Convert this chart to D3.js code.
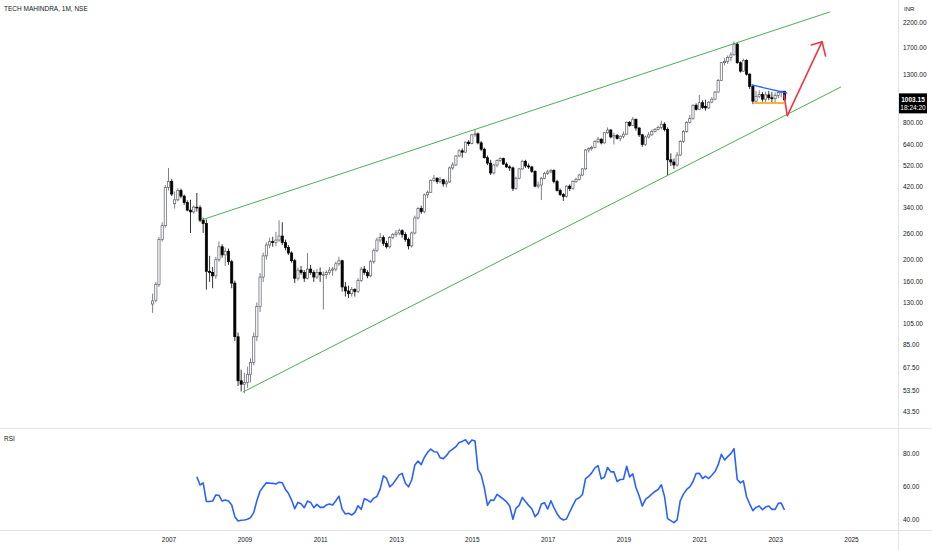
<!DOCTYPE html>
<html>
<head>
<meta charset="utf-8">
<script src="https://cdn.jsdelivr.net/npm/d3@7"></script>
<style>
    html, body { margin: 0; padding: 0; background: #ffffff; }
    svg { display: block; font-family: "Liberation Sans", Arial, sans-serif; }
</style>
</head>
<body>
<div id="chart"></div>
<script>
(function() {
    "use strict";

    // Monthly candles, Aug 2006 .. Apr 2023 (one row per year).
    var firstMonth = "2006-08-01";
    var opens = [
        128, 133, 156, 245, 282,
        415, 440, 352, 366, 402, 380, 356, 330, 324, 340, 338, 298,
        288, 178, 176, 170, 200, 228, 210, 218, 196, 158, 92, 59,
        57, 58, 63, 71, 92, 125, 168, 208, 232, 240, 238, 244,
        254, 238, 226, 214, 198, 166, 180, 176, 166, 182, 176, 168,
        176, 172, 172, 176, 180, 182, 192, 198, 152, 146, 142, 148,
        145, 162, 182, 176, 170, 196, 220, 244, 250, 236, 228, 250,
        258, 262, 268, 258, 245, 230, 262, 305, 335, 325, 385, 395,
        445, 455, 440, 448, 430, 438, 505, 520, 570, 600, 592, 655,
        645, 705, 712, 650, 610, 560, 530, 480, 520, 545, 555, 525,
        510, 505, 410, 455, 500, 540, 515, 510, 488, 420, 425, 455,
        478, 485, 492, 440, 402, 386, 378, 420, 410, 440, 450, 470,
        500, 605, 615, 620, 660, 675, 650, 720, 740, 690, 700, 680,
        695, 710, 800, 775, 825, 755, 705, 640, 690, 705, 730, 745,
        760, 785, 745, 548, 536, 520, 575, 660, 730, 800, 830, 950,
        912, 975, 940, 925, 980, 1010, 1085, 1220, 1460, 1480, 1540, 1580,
        1760, 1460, 1340, 1490, 1300, 1150, 990, 1040, 1060, 1010, 1055, 1025,
        1015, 1050, 1080, 1095
    ];
    var highs = [
        142, 160, 252, 292, 425,
        505, 452, 398, 412, 410, 386, 364, 366, 346, 392, 346, 306,
        300, 208, 186, 206, 240, 234, 226, 224, 200, 162, 96, 66,
        64, 68, 74, 96, 130, 175, 215, 238, 250, 252, 265, 298,
        292, 245, 232, 218, 202, 185, 188, 180, 214, 190, 180, 182,
        185, 178, 180, 186, 186, 196, 206, 200, 160, 154, 152, 150,
        166, 186, 188, 180, 200, 224, 250, 262, 256, 242, 254, 262,
        270, 274, 272, 264, 250, 266, 312, 340, 345, 390, 402, 450,
        470, 460, 462, 452, 448, 512, 535, 575, 610, 615, 660, 668,
        712, 742, 722, 662, 620, 572, 548, 528, 550, 562, 560, 534,
        520, 512, 462, 505, 548, 548, 528, 516, 492, 440, 462, 485,
        496, 500, 498, 448, 410, 392, 424, 428, 446, 458, 476, 505,
        612, 622, 632, 668, 690, 680, 726, 760, 748, 720, 712, 702,
        730, 808, 810, 845, 830, 762, 712, 698, 725, 745, 756, 772,
        812, 800, 760, 585, 555, 592, 668, 740, 808, 860, 960, 968,
        1055, 1000, 1005, 990, 1030, 1095, 1240, 1470, 1530, 1570, 1620, 1805,
        1790, 1480, 1520, 1510, 1310, 1170, 1100, 1105, 1085, 1090, 1098, 1085,
        1080, 1090, 1100, 1085
    ];
    var lows = [
        117, 130, 152, 240, 276,
        402, 380, 335, 360, 372, 348, 326, 262, 318, 325, 292, 262,
        148, 160, 150, 165, 196, 204, 188, 190, 150, 88, 56, 53,
        52, 55, 58, 69, 88, 118, 160, 200, 225, 228, 230, 240,
        232, 220, 210, 194, 158, 162, 172, 160, 164, 172, 160, 165,
        160, 121, 165, 172, 170, 178, 188, 145, 138, 136, 138, 138,
        143, 160, 172, 166, 168, 192, 216, 238, 230, 224, 224, 246,
        252, 256, 250, 240, 222, 226, 258, 300, 318, 320, 372, 392,
        438, 430, 432, 418, 415, 434, 495, 515, 562, 560, 588, 630,
        640, 690, 640, 598, 555, 520, 470, 472, 508, 535, 520, 505,
        490, 400, 405, 450, 495, 505, 500, 480, 415, 410, 365, 450,
        470, 478, 432, 398, 380, 362, 374, 400, 405, 434, 444, 465,
        495, 590, 600, 614, 648, 640, 645, 712, 680, 640, 672, 660,
        680, 705, 765, 770, 735, 690, 625, 630, 680, 698, 722, 738,
        745, 730, 470, 515, 500, 512, 570, 650, 720, 790, 820, 900,
        905, 915, 900, 915, 970, 1000, 1080, 1215, 1420, 1440, 1480, 1570,
        1440, 1320, 1330, 1280, 1120, 960, 978, 1020, 985, 982, 1000, 980,
        978, 1020, 1030, 990
    ];
    var closes = [
        132, 156, 245, 282, 415,
        440, 388, 366, 402, 380, 356, 330, 324, 340, 338, 298, 288,
        178, 176, 170, 200, 228, 210, 218, 196, 158, 92, 59, 57,
        58, 63, 71, 92, 125, 168, 208, 232, 240, 238, 244, 254,
        238, 226, 214, 198, 166, 180, 176, 166, 182, 176, 168, 176,
        172, 172, 176, 180, 182, 192, 198, 152, 146, 142, 148, 145,
        162, 182, 176, 170, 196, 220, 244, 250, 236, 228, 250, 258,
        262, 268, 258, 245, 230, 262, 305, 335, 325, 385, 395, 445,
        455, 440, 448, 430, 438, 505, 520, 570, 600, 592, 655, 645,
        705, 712, 650, 610, 560, 530, 480, 520, 545, 555, 525, 510,
        505, 410, 455, 500, 540, 515, 510, 488, 420, 425, 455, 478,
        485, 492, 440, 402, 386, 378, 420, 410, 440, 450, 470, 500,
        605, 615, 620, 660, 675, 650, 720, 740, 690, 700, 680, 695,
        710, 800, 775, 825, 755, 705, 640, 690, 705, 730, 745, 760,
        785, 745, 548, 536, 520, 575, 660, 730, 800, 830, 950, 912,
        975, 930, 925, 980, 1010, 1085, 1220, 1460, 1480, 1540, 1580, 1760,
        1460, 1340, 1490, 1300, 1150, 990, 1040, 1060, 1010, 1055, 1025, 1015,
        1050, 1080, 1095, 1003.15
    ];

    // Monthly RSI(14), Oct 2007 .. Apr 2023.
    var rsiFirstMonth = "2007-10-01";
    var rsiValues = [
        65.7, 60.7, 62.0,
        50.7, 50.7, 51.0, 54.7, 54.5, 51.0, 51.6, 51.0, 48.6, 41.6, 39.0, 39.4,
        39.6, 40.0, 41.0, 44.0, 51.2, 57.0, 59.6, 62.0, 61.8, 61.7, 61.3, 62.4,
        62.0, 58.0, 55.7, 51.6, 46.4, 50.2, 49.4, 47.0, 51.0, 50.2, 47.0, 49.0,
        47.2, 47.2, 48.6, 49.2, 48.6, 51.2, 54.0, 46.0, 43.2, 43.6, 42.6, 44.0,
        48.2, 46.0, 52.4, 51.6, 50.4, 52.8, 53.8, 58.2, 66.2, 64.8, 59.6, 61.2,
        64.0, 66.8, 67.7, 61.7, 59.6, 63.7, 72.7, 75.1, 73.0, 77.4, 80.4, 82.4,
        80.8, 80.6, 77.2, 76.6, 78.4, 81.0, 82.4, 83.8, 86.4, 87.0, 88.0, 85.4,
        87.8, 87.2, 70.1, 66.8, 59.2, 48.4, 51.6, 51.4, 55.0, 53.6, 52.2, 50.6,
        48.0, 40.0, 46.6, 48.4, 53.2, 50.7, 48.4, 46.4, 41.6, 43.6, 49.2, 50.0,
        46.2, 51.2, 47.2, 43.4, 40.8, 39.6, 40.2, 44.4, 48.4, 52.0, 53.0, 54.8,
        64.6, 66.0, 68.0, 71.0, 72.4, 64.4, 65.4, 71.2, 68.6, 68.6, 62.8, 64.0,
        64.2, 72.0, 65.6, 67.4, 59.2, 54.2, 48.0, 52.0, 53.6, 55.2, 56.8, 58.0,
        60.8, 53.6, 40.4, 39.2, 38.0, 39.6, 51.2, 55.2, 58.0, 59.6, 62.8, 67.6,
        67.8, 64.6, 66.0, 64.6, 66.6, 68.8, 72.8, 79.2, 75.8, 77.8, 79.6, 82.6,
        64.0, 62.0, 63.2, 53.6, 49.2, 45.2, 47.2, 48.0, 45.8, 47.4, 48.0, 46.0,
        46.0, 49.6, 49.8, 45.6
    ];

    // Axis labels.
    var priceTicks = [2200, 1700, 1300, 800, 640, 520, 420, 340, 260, 200, 160, 130, 105, 85, 67.5, 53.5, 43.5];
    var rsiTicks = [80, 60, 40];
    var yearTicks = [2007, 2009, 2011, 2013, 2015, 2017, 2019, 2021, 2023, 2025];

    // Drawings on the chart: [date, price] pairs.
    var upperChannel = [["2007-11-28", 300], ["2024-06-10", 2434]];
    var lowerChannel = [["2008-12-19", 52.7], ["2024-09-25", 1142]];
    var blueTrend = [["2022-05-22", 1166], ["2023-04-22", 1075]];
    var orangeSupport = [["2022-06-19", 972], ["2023-03-25", 972]];
    var redArrow = [["2023-03-28", 1054], ["2023-04-28", 853], ["2024-03-28", 1804]];
    var redArrowHead = [["2023-12-16", 1745], ["2024-03-28", 1804], ["2024-05-01", 1561]];

    var lastPrice = "1003.15";
    var countdown = "18:24:20";

    var w = 932;
    var h = 550;
    var textColor = "#131722";
    var parseDate = d3.timeParse("%Y-%m-%d");

    var months = d3.timeMonth.range(parseDate(firstMonth), d3.timeMonth.offset(parseDate(firstMonth), closes.length));
    var rsiMonths = d3.timeMonth.range(parseDate(rsiFirstMonth), d3.timeMonth.offset(parseDate(rsiFirstMonth), rsiValues.length));

    // Scales: equal monthly spacing on time, log price, linear RSI.
    var xScale = d3.scaleTime()
        .domain([new Date(2007, 0, 1), new Date(2025, 0, 1)])
        .range([168.5, 851]);
    var yScale = d3.scaleLog()
        .domain([2200, 43.5])
        .range([22, 411]);
    var rsiScale = d3.scaleLinear()
        .domain([80, 40])
        .range([453, 519.3]);

    var svg = d3.select("#chart").append("svg")
        .attr("width", w)
        .attr("height", h);

    svg.append("rect").attr("width", w).attr("height", h).attr("fill", "#ffffff");

    var defs = svg.append("defs");
    defs.append("clipPath").attr("id", "mainClip")
        .append("rect").attr("x", 0).attr("y", 0).attr("width", 898).attr("height", 428);
    defs.append("clipPath").attr("id", "rsiClip")
        .append("rect").attr("x", 0).attr("y", 429).attr("width", 898).attr("height", 101);

    // Pane separators.
    svg.append("line").attr("x1", 0).attr("x2", w).attr("y1", 428.5).attr("y2", 428.5)
        .attr("stroke", "#e0e3eb").attr("stroke-width", 1);
    svg.append("line").attr("x1", 0).attr("x2", w).attr("y1", 530.5).attr("y2", 530.5)
        .attr("stroke", "#e0e3eb").attr("stroke-width", 1);
    svg.append("line").attr("x1", 898.5).attr("x2", 898.5).attr("y1", 0).attr("y2", h)
        .attr("stroke", "#e0e3eb").attr("stroke-width", 1);

    var main = svg.append("g").attr("clip-path", "url(#mainClip)");

    var candles = months.map(function(d, i) {
        return { date: d, o: opens[i], h: highs[i], l: lows[i], c: closes[i] };
    });

    var upColor = "#5d606b";

    // Wicks.
    main.selectAll(".wick")
        .data(candles)
        .enter()
        .append("line")
            .attr("class", "wick")
            .attr("x1", function(d) { return xScale(d.date); })
            .attr("x2", function(d) { return xScale(d.date); })
            .attr("y1", function(d) { return yScale(d.h); })
            .attr("y2", function(d) { return yScale(d.l); })
            .attr("stroke", function(d) { return d.c >= d.o ? upColor : "#000000"; })
            .attr("stroke-width", 0.8);

    // Bodies: hollow up, solid down.
    main.selectAll(".body")
        .data(candles)
        .enter()
        .append("rect")
            .attr("class", "body")
            .attr("x", function(d) { return xScale(d.date) - 1.1; })
            .attr("y", function(d) { return yScale(Math.max(d.o, d.c)); })
            .attr("width", 2.2)
            .attr("height", function(d) {
                return Math.max(0.8, Math.abs(yScale(d.o) - yScale(d.c)));
            })
            .attr("fill", function(d) { return d.c >= d.o ? "#ffffff" : "#000000"; })
            .attr("stroke", function(d) { return d.c >= d.o ? upColor : "#000000"; })
            .attr("stroke-width", 0.7);

    // Trend drawings.
    var priceLine = d3.line()
        .x(function(d) { return xScale(parseDate(d[0])); })
        .y(function(d) { return yScale(d[1]); });

    function drawing(points, color, width) {
        main.append("path")
            .attr("d", priceLine(points))
            .attr("fill", "none")
            .attr("stroke", color)
            .attr("stroke-width", width)
            .attr("stroke-linejoin", "round")
            .attr("stroke-linecap", "round");
    }

    drawing(upperChannel, "#4caf50", 1);
    drawing(lowerChannel, "#4caf50", 1);
    drawing(blueTrend, "#2962ff", 1.3);
    drawing(orangeSupport, "#ff9800", 1.3);
    drawing(redArrow, "#f23645", 1.6);
    drawing(redArrowHead, "#f23645", 1.6);

    // RSI line.
    var rsiLine = d3.line()
        .x(function(d, i) { return xScale(rsiMonths[i]); })
        .y(function(d) { return rsiScale(d); });

    svg.append("g").attr("clip-path", "url(#rsiClip)")
        .append("path")
            .datum(rsiValues)
            .attr("d", rsiLine)
            .attr("fill", "none")
            .attr("stroke", "#2962ff")
            .attr("stroke-width", 1.6)
            .attr("stroke-linejoin", "round");

    // Price axis.
    var priceAxis = svg.append("g")
        .attr("transform", "translate(899,0)")
        .call(d3.axisRight(yScale)
            .tickValues(priceTicks)
            .tickFormat(d3.format(".2f"))
            .tickSize(0)
            .tickPadding(4));
    priceAxis.select(".domain").remove();
    priceAxis.selectAll("text")
        .attr("fill", textColor)
        .style("font-size", "6.5px");

    // RSI axis.
    var rsiAxis = svg.append("g")
        .attr("transform", "translate(899,0)")
        .call(d3.axisRight(rsiScale)
            .tickValues(rsiTicks)
            .tickFormat(d3.format(".2f"))
            .tickSize(0)
            .tickPadding(4));
    rsiAxis.select(".domain").remove();
    rsiAxis.selectAll("text")
        .attr("fill", textColor)
        .style("font-size", "6.5px");

    // Time axis.
    var timeAxis = svg.append("g")
        .attr("transform", "translate(0,531)")
        .call(d3.axisBottom(xScale)
            .tickValues(yearTicks.map(function(y) { return new Date(y, 0, 1); }))
            .tickFormat(d3.timeFormat("%Y"))
            .tickSize(0)
            .tickPadding(6));
    timeAxis.select(".domain").remove();
    timeAxis.selectAll("text")
        .attr("fill", textColor)
        .style("font-size", "6.5px");

    // Currency label and last price tag.
    svg.append("text")
        .attr("x", 904).attr("y", 11)
        .attr("fill", textColor)
        .style("font-size", "6px")
        .text("INR");

    var tagY = yScale(+lastPrice);
    svg.append("rect")
        .attr("x", 899).attr("y", tagY - 6.5)
        .attr("width", 28).attr("height", 20)
        .attr("fill", "#000000");
    svg.append("text")
        .attr("x", 913).attr("y", tagY + 2.3)
        .attr("text-anchor", "middle")
        .attr("fill", "#ffffff")
        .style("font-size", "6.5px")
        .style("font-weight", "bold")
        .text(lastPrice);
    svg.append("text")
        .attr("x", 913).attr("y", tagY + 10.5)
        .attr("text-anchor", "middle")
        .attr("fill", "#ffffff")
        .style("font-size", "6.5px")
        .text(countdown);

    // Pane titles.
    svg.append("text")
        .attr("x", 4).attr("y", 11)
        .attr("fill", textColor)
        .style("font-size", "6.5px")
        .text("TECH MAHINDRA, 1M, NSE");
    svg.append("text")
        .attr("x", 4).attr("y", 441)
        .attr("fill", textColor)
        .style("font-size", "6.5px")
        .text("RSI");
})();
</script>
</body>
</html>
